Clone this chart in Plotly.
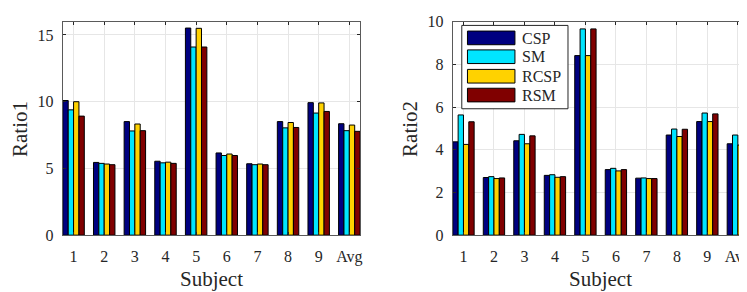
import plotly.graph_objects as go

subjects = ["1", "2", "3", "4", "5", "6", "7", "8", "9", "Avg"]
methods = ["CSP", "SM", "RCSP", "RSM"]
colors = ["#000080", "#00E5FF", "#FFD200", "#800000"]

ratio1_csp = [10.09, 5.45, 8.51, 5.54, 15.52, 6.16, 5.35, 8.51, 9.93, 8.35]
ratio1_sm = [9.39, 5.38, 7.81, 5.42, 14.10, 5.97, 5.28, 8.04, 9.15, 7.83]
ratio1_rcsp = [10.00, 5.33, 8.33, 5.47, 15.50, 6.08, 5.33, 8.44, 9.91, 8.25]
ratio1_rsm = [8.92, 5.28, 7.83, 5.38, 14.10, 5.97, 5.28, 8.07, 9.27, 7.78]

ratio2_csp = [4.37, 2.70, 4.42, 2.80, 8.41, 3.07, 2.67, 4.69, 5.32, 4.28]
ratio2_sm = [5.63, 2.74, 4.72, 2.83, 9.66, 3.13, 2.68, 4.97, 5.72, 4.69]
ratio2_rcsp = [4.25, 2.65, 4.28, 2.71, 8.41, 3.01, 2.65, 4.62, 5.32, 4.22]
ratio2_rsm = [5.31, 2.68, 4.65, 2.74, 9.66, 3.07, 2.65, 4.96, 5.68, 4.60]

ratio1 = [ratio1_csp, ratio1_sm, ratio1_rcsp, ratio1_rsm]
ratio2 = [ratio2_csp, ratio2_sm, ratio2_rcsp, ratio2_rsm]

W, H = 747, 292
FONT = "Liberation Serif"
TXT = "#262626"


def px(x):
    return x / W


def py(y):
    return 1 - y / H


fig = go.Figure()
for i, m in enumerate(methods):
    fig.add_trace(go.Bar(x=subjects, y=ratio1[i], name=m, marker_color=colors[i],
                         marker_line_color="#000000", marker_line_width=1,
                         xaxis="x", yaxis="y", showlegend=False))
for i, m in enumerate(methods):
    fig.add_trace(go.Bar(x=subjects, y=ratio2[i], name=m, marker_color=colors[i],
                         marker_line_color="#000000", marker_line_width=1,
                         xaxis="x2", yaxis="y2", showlegend=False))

ydom = [py(232.7), py(6)]
axis_common = dict(showline=True, linecolor="#5a5a5a", linewidth=1.3, mirror="ticks",
                   ticks="inside", ticklen=3, tickcolor="#262626",
                   showgrid=True, gridcolor="#e6e6e6", gridwidth=1, zeroline=False,
                   ticklabeloverflow="allow",
                   tickfont=dict(family=FONT, size=16, color=TXT))

fig.update_layout(
    width=W, height=H,
    margin=dict(l=0, r=0, t=0, b=0),
    paper_bgcolor="white", plot_bgcolor="white",
    font=dict(family=FONT, color=TXT),
    barmode="group", bargap=0.3, bargroupgap=0,
    xaxis=dict(domain=[px(55), px(353)], anchor="y", type="category",
               range=[-0.35, 9.35], ticklabelstandoff=6, **axis_common),
    yaxis=dict(domain=ydom, anchor="x", range=[0, 16], tickvals=[0, 5, 10, 15],
               ticklabelstandoff=5, **axis_common),
    xaxis2=dict(domain=[px(446), px(742.5)], anchor="y2", type="category",
                range=[-0.35, 9.35], ticklabelstandoff=6, **axis_common),
    yaxis2=dict(domain=ydom, anchor="x2", range=[0, 10.0001], tickvals=[0, 2, 4, 6, 8, 10],
                ticklabelstandoff=5, **axis_common),
)

# axis titles
ann = [
    dict(x=px(204), y=py(279.5), text="Subject"),
    dict(x=px(594), y=py(279.5), text="Subject"),
    dict(x=px(12), y=py(120), text="Ratio1", textangle=-90),
    dict(x=px(403), y=py(120), text="Ratio2", textangle=-90),
]
for a in ann:
    fig.add_annotation(xref="paper", yref="paper", showarrow=False,
                       font=dict(family=FONT, size=21, color=TXT),
                       xanchor="center", yanchor="middle", **a)

# legend box (drawn in the right panel)
fig.add_shape(type="rect", xref="paper", yref="paper",
              x0=px(455), x1=px(561.5), y0=py(98.5), y1=py(10),
              line=dict(color="#262626", width=1), fillcolor="white", layer="above")
sw_top = [16, 36, 56.7, 76.7]
for i, m in enumerate(methods):
    fig.add_shape(type="rect", xref="paper", yref="paper",
                  x0=px(460.7), x1=px(508.3), y0=py(sw_top[i] + 14.5), y1=py(sw_top[i]),
                  line=dict(color="#000000", width=1), fillcolor=colors[i], layer="above")
    fig.add_annotation(xref="paper", yref="paper", showarrow=False,
                       x=px(513), y=py(sw_top[i] + 7.5), text=m,
                       xanchor="left", yanchor="middle",
                       font=dict(family=FONT, size=16, color=TXT))

fig.write_html("out.html")
